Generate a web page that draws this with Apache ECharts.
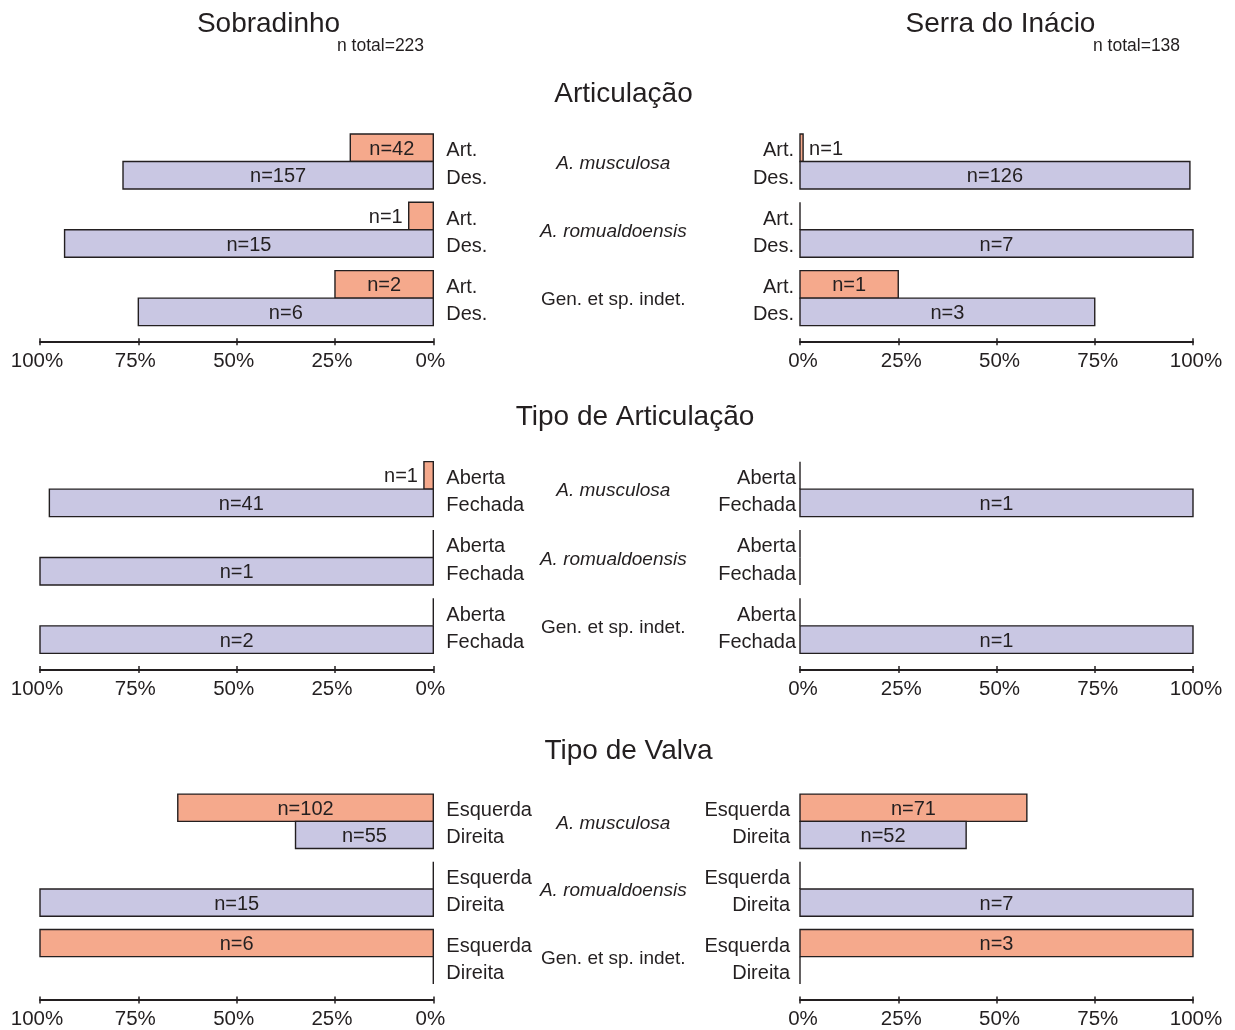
<!DOCTYPE html>
<html>
<head>
<meta charset="utf-8">
<script src="https://cdn.jsdelivr.net/npm/echarts@6/dist/echarts.min.js"></script>
<style>
  html, body { margin: 0; padding: 0; background: #ffffff; }
  #chart { width: 1235px; height: 1030px; }
</style>
</head>
<body>
<div id="chart"></div>
<script>
// Taxa (one group of two bars per taxon in every panel)
const groups = ['A. musculosa', 'A. romualdoensis', 'Gen. et sp. indet.'];

// Bar labels for each section
const articulacaoLabels = ['Art.', 'Des.'];
const tipoArticulacaoLabels = ['Aberta', 'Fechada'];
const valvaLabels = ['Esquerda', 'Direita'];

// Counts per taxon: [first class, second class]
const sobradinhoArticulacao = [[42, 157], [1, 15], [2, 6]];
const serraArticulacao = [[1, 126], [0, 7], [1, 3]];
const sobradinhoTipoArticulacao = [[1, 41], [0, 1], [0, 2]];
const serraTipoArticulacao = [[0, 1], [0, 0], [0, 1]];
const sobradinhoValva = [[102, 55], [0, 15], [6, 0]];
const serraValva = [[71, 52], [0, 7], [3, 0]];

// Percentage axis ticks
const tickValues = [0, 25, 50, 75, 100];

const FONT = '"Liberation Sans", Arial, Helvetica, sans-serif';
const INK = '#231f20';
const COLORS = ['#f5a98c', '#c9c7e3'];

// Share of each class within its taxon, in percent
function toRows(counts) {
  const rows = [];
  counts.forEach((pair, g) => {
    const total = pair[0] + pair[1];
    pair.forEach((n, slot) => {
      rows.push([total ? n / total * 100 : 0, g, slot, n]);
    });
  });
  return rows;
}

const rowsLayout = [
  { top: 127.3, labels: articulacaoLabels, left: sobradinhoArticulacao, right: serraArticulacao, rightGap: 6 },
  { top: 455.0, labels: tipoArticulacaoLabels, left: sobradinhoTipoArticulacao, right: serraTipoArticulacao, rightGap: 4 },
  { top: 787.5, labels: valvaLabels, left: sobradinhoValva, right: serraValva, rightGap: 10 }
];
const GRID_H = 205;
const AXIS_OFFSET = 9.5;
const BAR_FRAC = 27.5 / (GRID_H / 3);

function makeRenderer(classLabels, mirrored, classGap) {
  return function (params, api) {
    const v = api.value(0);
    const g = api.value(1);
    const slot = api.value(2);
    const n = api.value(3);
    const base = api.coord([0, g]);
    const end = api.coord([v, g]);
    const band = api.size([0, 1])[1];
    const h = band * BAR_FRAC;
    const yTop = base[1] - h + slot * h;
    const yMid = yTop + h / 2;
    const x0 = base[0];
    const x1 = end[0];
    const children = [];
    if (v > 0) {
      children.push({
        type: 'rect',
        shape: { x: Math.min(x0, x1), y: yTop, width: Math.abs(x1 - x0), height: h },
        style: { fill: COLORS[slot], stroke: INK, lineWidth: 1.4 }
      });
      const w = Math.abs(x1 - x0);
      const dir = x1 < x0 ? -1 : 1;
      const inside = w > 50;
      children.push({
        type: 'text',
        style: {
          text: 'n=' + n,
          x: inside ? (x0 + x1) / 2 : x1 + dir * 6,
          y: yMid + 1.5,
          fill: INK,
          font: '20px ' + FONT,
          align: inside ? 'center' : (dir < 0 ? 'right' : 'left'),
          verticalAlign: 'middle'
        }
      });
    } else {
      children.push({
        type: 'line',
        shape: { x1: x0, y1: yTop, x2: x0, y2: yTop + h },
        style: { stroke: INK, lineWidth: 1.4 }
      });
    }
    children.push({
      type: 'text',
      style: {
        text: classLabels[slot],
        x: mirrored ? x0 + 13 : x0 - classGap,
        y: yMid + 3,
        fill: INK,
        font: '20px ' + FONT,
        align: mirrored ? 'left' : 'right',
        verticalAlign: 'middle'
      }
    });
    return { type: 'group', children: children };
  };
}

const grids = [];
const xAxes = [];
const yAxes = [];
const series = [];

rowsLayout.forEach((row, r) => {
  [
    { side: 'left', left: 40, width: 393.3, counts: row.left, mirrored: true },
    { side: 'right', left: 800, width: 393, counts: row.right, mirrored: false }
  ].forEach((panel) => {
    const gi = grids.length;
    grids.push({ left: panel.left, top: row.top, width: panel.width, height: GRID_H, containLabel: false });
    const axisCommon = {
      type: 'value', gridIndex: gi, min: 0, max: 100, interval: 25,
      inverse: panel.mirrored, position: 'bottom', offset: AXIS_OFFSET,
      splitLine: { show: false }
    };
    const xi = xAxes.length;
    xAxes.push(Object.assign({}, axisCommon, {
      axisLine: { show: true, lineStyle: { color: INK, width: 2 } },
      axisTick: { show: true, length: 3.5, lineStyle: { color: INK, width: 1.5 } },
      axisLabel: {
        show: true, margin: 9, color: INK, fontSize: 20.5, fontFamily: FONT,
        padding: panel.mirrored ? [0, 6, 0, 0] : [0, 0, 0, 6],
        formatter: '{value}%', customValues: tickValues
      }
    }));
    xAxes.push(Object.assign({}, axisCommon, {
      axisLine: { show: false },
      axisTick: { show: true, inside: true, length: 3.5, lineStyle: { color: INK, width: 1.5 } },
      axisLabel: { show: false }
    }));
    const yi = yAxes.length;
    yAxes.push({
      type: 'category', gridIndex: gi, data: groups, inverse: true,
      position: panel.mirrored ? 'right' : 'left',
      axisLine: { show: false }, axisTick: { show: false }, splitLine: { show: false },
      axisLabel: panel.mirrored ? {
        show: true, margin: 180, align: 'center', padding: [4, 0, 0, 0],
        formatter: (val, i) => (i < 2 ? '{it|' + val + '}' : '{n|' + val + '}'),
        rich: {
          it: { fontStyle: 'italic', fontSize: 19, fontFamily: FONT, color: INK },
          n: { fontSize: 19, fontFamily: FONT, color: INK }
        }
      } : { show: false }
    });
    series.push({
      type: 'custom',
      xAxisIndex: xi,
      yAxisIndex: yi,
      data: toRows(panel.counts),
      renderItem: makeRenderer(row.labels, panel.mirrored, row.rightGap),
      silent: true,
      clip: false
    });
  });
});

function title(text, x, y, size, align) {
  return {
    type: 'text', x: x, y: y, silent: true,
    style: { text: text, fill: INK, font: size + 'px ' + FONT, align: align || 'center', verticalAlign: 'middle' }
  };
}

const chart = echarts.init(document.getElementById('chart'), null, { renderer: 'canvas' });
chart.setOption({
  backgroundColor: '#ffffff',
  animation: false,
  grid: grids,
  xAxis: xAxes,
  yAxis: yAxes,
  series: series,
  graphic: [
    title('Sobradinho', 268.5, 24, 28),
    title('n total=223', 337, 46, 17.5, 'left'),
    title('Serra do Inácio', 1000.5, 24, 28),
    title('n total=138', 1093, 46, 17.5, 'left'),
    title('Articulação', 623.5, 94, 28),
    title('Tipo de Articulação', 635, 417, 28),
    title('Tipo de Valva', 628.5, 751, 28)
  ]
});
</script>
</body>
</html>
